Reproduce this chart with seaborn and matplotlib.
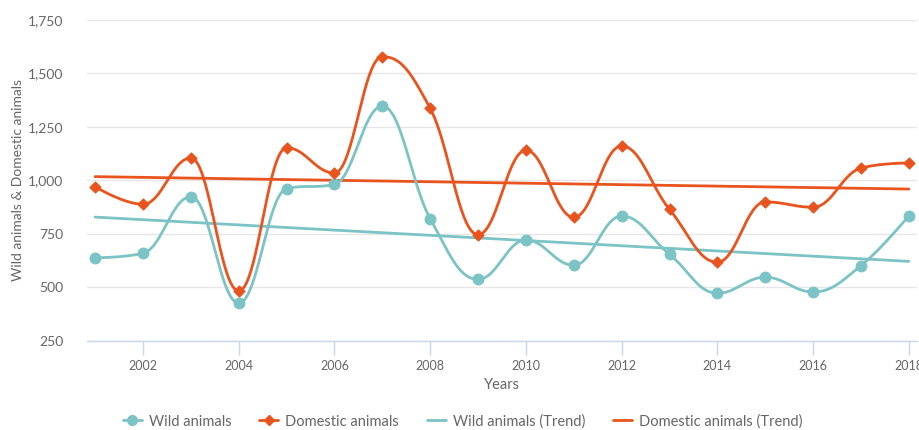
import numpy as np
import pandas as pd
import matplotlib
matplotlib.use("Agg")
import matplotlib.pyplot as plt
import seaborn as sns
from matplotlib.lines import Line2D

# data
years = list(range(2001, 2019))
wild = [639, 660, 924, 427, 962, 982, 1347, 821, 538, 722, 604, 834, 655, 473, 548, 479, 602, 835]
domestic = [971, 889, 1105, 484, 1153, 1035, 1579, 1337, 747, 1141, 828, 1161, 865, 618, 900, 875, 1058, 1082]
wild_trend = [829, 622]       # value at first and last year
domestic_trend = [1018, 960]
xticks = list(range(2002, 2019, 2))
yticks = [250, 500, 750, 1000, 1250, 1500, 1750]

TEAL = "#7cc3c5"
ORANGE = "#e9531d"
GREY = "#666666"


def spline(xs, ys, smoothing=1.5, n=40):
    # highcharts style bezier spline through the points
    xs = np.asarray(xs, float)
    ys = np.asarray(ys, float)
    m = len(xs)
    lc = np.column_stack([xs, ys]).copy()
    rc = np.column_stack([xs, ys]).copy()
    d = smoothing + 1
    for i in range(1, m - 1):
        x, y = xs[i], ys[i]
        lx, ly = xs[i - 1], ys[i - 1]
        nx, ny = xs[i + 1], ys[i + 1]
        lcx = (smoothing * x + lx) / d
        lcy = (smoothing * y + ly) / d
        rcx = (smoothing * x + nx) / d
        rcy = (smoothing * y + ny) / d
        corr = (rcy - lcy) * (rcx - x) / (rcx - lcx) + y - rcy
        lcy += corr
        rcy += corr
        if lcy > ly and lcy > y:
            lcy = max(ly, y)
            rcy = 2 * y - lcy
        elif lcy < ly and lcy < y:
            lcy = min(ly, y)
            rcy = 2 * y - lcy
        if rcy > ny and rcy > y:
            rcy = max(ny, y)
            lcy = 2 * y - rcy
        elif rcy < ny and rcy < y:
            rcy = min(ny, y)
            lcy = 2 * y - rcy
        lc[i] = [lcx, lcy]
        rc[i] = [rcx, rcy]
    t = np.linspace(0, 1, n)[:, None]
    out = []
    for i in range(1, m):
        p0 = np.array([xs[i - 1], ys[i - 1]])
        p1 = rc[i - 1]
        p2 = lc[i]
        p3 = np.array([xs[i], ys[i]])
        seg = (1 - t) ** 3 * p0 + 3 * (1 - t) ** 2 * t * p1 + 3 * (1 - t) * t ** 2 * p2 + t ** 3 * p3
        out.append(seg if i == 1 else seg[1:])
    out = np.vstack(out)
    return out[:, 0], out[:, 1]


sns.set_theme(style="white")
plt.rcParams["font.family"] = ["Lato", "DejaVu Sans"]

fig = plt.figure(figsize=(9.2, 4.3), dpi=100)
ax = fig.add_axes([0.0946, 0.207, 0.9021, 0.7465])

df = pd.DataFrame({"year": years, "wild": wild, "domestic": domestic})

for col, color, marker, ms in [("wild", TEAL, "o", 60), ("domestic", ORANGE, "D", 32)]:
    sx, sy = spline(df["year"], df[col])
    sns.lineplot(x=sx, y=sy, ax=ax, color=color, lw=2, sort=False, zorder=3)
    sns.scatterplot(data=df, x="year", y=col, ax=ax, color=color, marker=marker,
                    s=ms, edgecolor=color, linewidth=0.8, zorder=4)

trend = pd.DataFrame({"year": [years[0], years[-1]], "wild": wild_trend, "domestic": domestic_trend})
sns.lineplot(data=trend, x="year", y="wild", ax=ax, color=TEAL, lw=2, zorder=2)
sns.lineplot(data=trend, x="year", y="domestic", ax=ax, color=ORANGE, lw=2, zorder=2)

ax.set_xlim(2000.83, 2018.17)
ax.set_ylim(250, 1750)
ax.set_yticks(yticks)
ax.set_yticklabels([f"{v:,}" for v in yticks])
ax.set_xticks(xticks)
ax.grid(axis="y", color="#e6e6e6", lw=1)
ax.grid(axis="x", visible=False)
ax.set_axisbelow(True)
for s in ["top", "right", "left"]:
    ax.spines[s].set_visible(False)
ax.spines["bottom"].set_color("#ccd6eb")
ax.spines["bottom"].set_linewidth(1)
ax.tick_params(axis="x", length=10, width=1, color="#ccd6eb", labelsize=9, labelcolor=GREY, pad=4,
               bottom=True)
ax.tick_params(axis="y", length=0, labelsize=10, labelcolor=GREY, pad=17)
ax.set_xlabel("Years", fontsize=10.5, color=GREY, labelpad=4)
ax.set_ylabel("Wild animals & Domestic animals", fontsize=10, color=GREY, labelpad=3)

handles = [
    Line2D([], [], color=TEAL, lw=2, marker="o", ms=7),
    Line2D([], [], color=ORANGE, lw=2, marker="D", ms=5),
    Line2D([], [], color=TEAL, lw=2),
    Line2D([], [], color=ORANGE, lw=2),
]
labels = ["Wild animals", "Domestic animals", "Wild animals (Trend)", "Domestic animals (Trend)"]
leg = fig.legend(handles, labels, loc="center", bbox_to_anchor=(0.503, 0.02), ncol=4, frameon=False,
                 fontsize=10.5, handlelength=1.3, handletextpad=0.5, columnspacing=1.9)
for t in leg.get_texts():
    t.set_color(GREY)

fig.savefig("out.png", dpi=100)
